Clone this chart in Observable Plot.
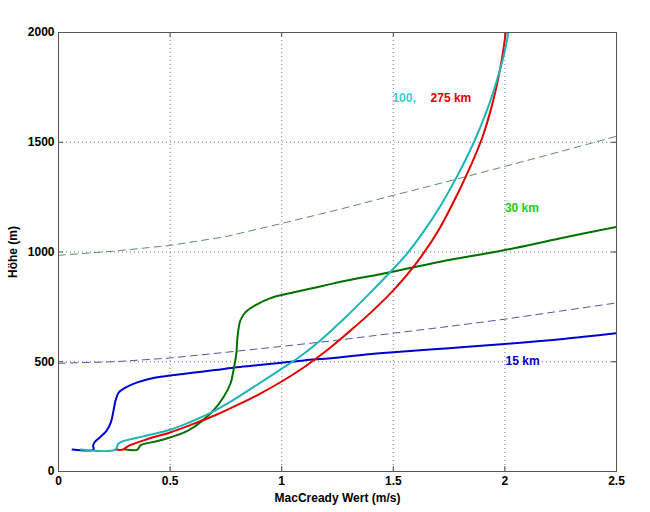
<!DOCTYPE html>
<html>
<head>
<meta charset="utf-8">
<script src="https://cdn.jsdelivr.net/npm/d3@7"></script>
<script src="https://cdn.jsdelivr.net/npm/@observablehq/plot@0.6"></script>
<style>
  body { margin: 0; background: #fff; }
  #chart svg { display: block; }
</style>
</head>
<body>
<div id="chart"></div>
<script>
// Axis ticks
const xTicks = [0, 0.5, 1, 1.5, 2, 2.5];
const yTicks = [0, 500, 1000, 1500, 2000];
const xGrid = [0.5, 1, 1.5, 2];
const yGrid = [500, 1000, 1500];

// 15 km (solid blue)
const km15X = [0.063, 0.157, 0.155, 0.163, 0.185, 0.215, 0.235, 0.247, 0.256, 0.27, 0.3, 0.35, 0.42, 0.5, 0.6, 0.7, 0.8, 0.9, 1.0, 1.1, 1.22, 1.35, 1.5, 1.75, 2.0, 2.25, 2.5];
const km15Y = [100, 100, 118, 135, 155, 185, 225, 280, 325, 360, 382, 405, 425, 437, 450, 462, 475, 485, 495, 506, 516, 530, 543, 562, 581, 603, 630];

// 30 km (solid dark green)
const km30X = [0.3, 0.354, 0.367, 0.457, 0.582, 0.695, 0.739, 0.771, 0.784, 0.797, 0.802, 0.815, 0.838, 0.883, 0.95, 1.04, 1.143, 1.233, 1.495, 1.711, 2.0, 2.25, 2.5];
const km30Y = [100, 100, 119, 142, 187, 279, 338, 402, 461, 539, 612, 689, 726, 758, 790, 813, 836, 857, 910, 956, 1009, 1063, 1114];

// 100 km (solid cyan)
const km100X = [0.1, 0.255, 0.269, 0.381, 0.5, 0.582, 0.69, 0.771, 0.995, 1.084, 1.174, 1.278, 1.383, 1.495, 1.562, 1.637, 1.711, 1.786, 1.861, 1.921, 1.965, 1.995, 2.018];
const km100Y = [100, 100, 128, 160, 190, 222, 272, 318, 465, 525, 598, 695, 800, 918, 993, 1095, 1210, 1345, 1500, 1650, 1785, 1895, 2010];

// 275 km (solid red)
const km275X = [0.255, 0.29, 0.31, 0.4, 0.5, 0.6, 0.7, 0.8, 0.9, 1.0, 1.1, 1.2, 1.3, 1.4, 1.5, 1.6, 1.7, 1.8, 1.85, 1.9, 1.94, 1.97, 1.99, 2.005];
const km275Y = [100, 100, 115, 148, 178, 215, 255, 302, 353, 410, 475, 550, 635, 725, 825, 945, 1095, 1290, 1400, 1525, 1660, 1790, 1900, 2010];

// dashed reference lines
const dashBlueX = [0, 0.25, 0.5, 0.75, 1.0, 1.25, 1.5, 1.75, 2.0, 2.25, 2.5];
const dashBlueY = [493, 500, 517, 543, 570, 598, 630, 661, 694, 731, 768];
const dashGreenX = [0, 0.25, 0.5, 0.75, 1.0, 1.25, 1.5, 1.75, 2.0, 2.25, 2.5];
const dashGreenY = [985, 1004, 1030, 1070, 1130, 1192, 1258, 1323, 1390, 1458, 1527];

// curve labels
const labelText = ["100,", "275 km", "30 km", "15 km"];
const labelX = [1.496, 1.667, 2.0, 2.003];
const labelY = [1703, 1703, 1201, 502];
const labelColor = ["#2ed3d3", "#dd0000", "#22cc22", "#0000cc"];

const pts = (xs, ys) => xs.map((x, i) => ({x, y: ys[i]}));

const solid = [
  {pts: pts(km15X, km15Y), color: "#0000cc"},
  {pts: pts(km30X, km30Y), color: "#007000"},
  {pts: pts(km275X, km275Y), color: "#e00000"},
  {pts: pts(km100X, km100Y), color: "#1fb5b5"}
];
const labels = labelText.map((t, i) => ({t, x: labelX[i], y: labelY[i], c: labelColor[i]}));

const tickLenY = 22;   // inward tick length in data units (y)
const tickLenX = 0.022; // inward tick length in data units (x)

const chart = Plot.plot({
  width: 650,
  height: 512,
  marginLeft: 58,
  marginRight: 34,
  marginTop: 32,
  marginBottom: 41,
  x: {domain: [0, 2.5]},
  y: {domain: [0, 2000]},
  style: {fontFamily: "'Liberation Sans', Arial, sans-serif", fontSize: "12px", fontWeight: "bold", background: "#fff", color: "#000"},
  marks: [
    Plot.gridX(xGrid, {stroke: "#777", strokeOpacity: 1, strokeDasharray: "1,3"}),
    Plot.gridY(yGrid, {stroke: "#777", strokeOpacity: 1, strokeDasharray: "1,3"}),
    Plot.ruleX(xTicks, {x: d => d, y1: 0, y2: tickLenY, stroke: "#444"}),
    Plot.ruleX(xTicks, {x: d => d, y1: 2000 - tickLenY, y2: 2000, stroke: "#444"}),
    Plot.ruleY(yTicks, {y: d => d, x1: 0, x2: tickLenX, stroke: "#444"}),
    Plot.ruleY(yTicks, {y: d => d, x1: 2.5 - tickLenX, x2: 2.5, stroke: "#444"}),
    Plot.line(pts(dashGreenX, dashGreenY), {x: "x", y: "y", stroke: "#5f8f5f", strokeWidth: 1, strokeDasharray: "7,5"}),
    Plot.line(pts(dashBlueX, dashBlueY), {x: "x", y: "y", stroke: "#5555aa", strokeWidth: 1, strokeDasharray: "7,5"}),
    ...solid.map(s => Plot.line(s.pts, {x: "x", y: "y", stroke: s.color, strokeWidth: 2, curve: "catmull-rom", clip: true})),
    Plot.frame({stroke: "#555", strokeWidth: 1}),
    Plot.text(labels, {x: "x", y: "y", text: "t", fill: "c", textAnchor: "start", fontSize: 12, fontWeight: "bold"}),
    Plot.axisX({ticks: xTicks, tickSize: 0, tickPadding: 5, tickFormat: d => String(d), label: "MacCready Wert (m/s)", labelAnchor: "center", labelArrow: "none", labelOffset: 30}),
    Plot.axisY({ticks: yTicks, tickSize: 0, tickPadding: 4, tickFormat: d => String(d), label: "Höhe (m)", labelAnchor: "center", labelArrow: "none", labelOffset: 50})
  ]
});
document.getElementById("chart").append(chart);
</script>
</body>
</html>
